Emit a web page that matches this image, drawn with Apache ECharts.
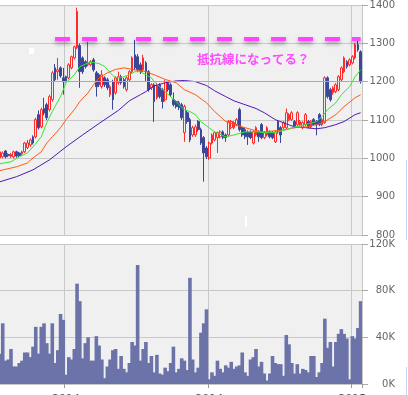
<!DOCTYPE html>
<html><head><meta charset="utf-8">
<script src="https://cdn.jsdelivr.net/npm/echarts@6.0.0/dist/echarts.min.js"></script>
<style>html,body{margin:0;padding:0;background:#fff;overflow:hidden}#c{width:408px;height:395px}</style>
</head><body><div id="c"></div>
<script>
// [open, close, low, high] per trading day
const ohlc = [
[1001,1017,996,1020],[1004,1014,1000,1018],[1019,1004,1000,1022],[1010,1007,1003,1013],[1005,1010,1001,1014],
[1004,1017,1000,1020],[1017,1006,1002,1020],[1014,1007,1003,1017],[1012,1017,1008,1020],[1017,1040,1014,1043],
[1028,1040,1024,1048],[1035,1048,1030,1052],[1056,1040,1036,1060],[1056,1101,1052,1106],[1114,1080,1075,1125],
[1082,1127,1078,1132],[1130,1118,1112,1158],[1140,1106,1100,1145],[1127,1161,1122,1166],[1153,1223,1148,1228],
[1236,1205,1200,1246],[1226,1231,1205,1262],[1236,1215,1210,1240],[1210,1200,1166,1236],[1213,1202,1198,1216],
[1210,1244,1206,1248],[1236,1265,1232,1268],[1262,1291,1258,1294],[1289,1383,1285,1393],[1294,1226,1184,1300],
[1262,1226,1220,1266],[1252,1239,1234,1256],[1244,1249,1240,1304],[1244,1252,1240,1256],[1257,1231,1226,1262],
[1223,1187,1161,1228],[1218,1192,1186,1222],[1187,1218,1182,1230],[1210,1192,1186,1214],[1205,1184,1178,1210],
[1166,1187,1160,1192],[1200,1153,1127,1205],[1171,1210,1166,1214],[1197,1213,1192,1226],[1213,1197,1192,1218],
[1205,1187,1182,1210],[1179,1210,1174,1214],[1205,1226,1200,1230],[1226,1262,1222,1266],[1270,1236,1230,1309],
[1265,1231,1226,1272],[1244,1226,1220,1250],[1231,1262,1226,1270],[1249,1226,1200,1254],[1226,1179,1174,1230],
[1184,1192,1178,1196],[1192,1148,1095,1196],[1158,1192,1153,1197],[1192,1161,1156,1196],[1179,1148,1130,1184],
[1153,1200,1148,1205],[1197,1179,1174,1202],[1192,1166,1160,1196],[1153,1140,1135,1172],[1148,1135,1130,1152],
[1145,1132,1126,1150],[1140,1106,1100,1145],[1067,1135,1043,1140],[1119,1096,1090,1124],[1101,1048,1042,1106],
[1061,1080,1056,1085],[1061,1082,1056,1088],[1096,1075,1070,1100],[1075,1040,1035,1080],[1054,1014,939,1058],
[1027,1004,998,1032],[1001,1040,996,1044],[1040,1061,1036,1065],[1048,1067,1044,1070],[1054,1067,1014,1070],
[1056,1069,1052,1073],[1069,1054,1050,1073],[1061,1054,1043,1065],[1061,1096,1057,1100],[1080,1096,1076,1100],
[1080,1093,1076,1097],[1088,1101,1084,1105],[1127,1075,1070,1132],[1080,1061,1056,1084],[1075,1056,1050,1079],
[1069,1056,1035,1073],[1069,1054,1050,1073],[1040,1069,1036,1073],[1061,1080,1057,1084],[1069,1056,1043,1073],
[1088,1054,1050,1092],[1054,1067,1050,1071],[1061,1080,1057,1084],[1069,1056,1052,1073],[1067,1054,1050,1071],
[1043,1069,1040,1073],[1096,1069,1064,1100],[1080,1061,1040,1084],[1080,1093,1076,1097],[1080,1119,1076,1130],
[1101,1114,1097,1118],[1101,1119,1097,1123],[1096,1082,1078,1100],[1088,1119,1084,1123],[1088,1096,1084,1100],
[1080,1093,1076,1097],[1088,1114,1084,1118],[1096,1082,1078,1100],[1082,1096,1078,1100],[1101,1088,1084,1105],
[1096,1088,1060,1100],[1114,1088,1084,1118],[1088,1101,1084,1105],[1093,1210,1090,1214],[1210,1161,1156,1214],
[1179,1153,1148,1184],[1171,1184,1166,1188],[1174,1192,1170,1196],[1179,1213,1175,1217],[1205,1236,1200,1240],
[1226,1262,1222,1266],[1252,1239,1234,1256],[1244,1257,1240,1261],[1249,1265,1245,1269],[1262,1296,1258,1300],
[1296,1283,1278,1307],[1278,1200,1195,1282]
];
// volume in thousands
const volume = [26,52,20,21,30,15,15,18,20,27,27,23,32,49,26,49,52,35,26,52,18,29,60,55,8,23,21,30,86,71,
22,35,40,20,20,41,33,21,5,15,21,29,30,13,24,13,10,18,36,33,102,20,30,36,18,24,10,25,9,8,14,11,18,32,10,13,22,
20,12,91,21,10,14,44,52,64,4,10,7,20,13,10,16,14,19,13,15,16,27,10,7,21,23,30,15,19,9,3,9,24,18,17,17,7,42,34,
18,9,17,9,13,12,10,24,24,6,10,18,56,31,36,15,36,43,47,43,39,4,41,39,48,71];
// moving averages: [dayIndex, value]
const maShort = [[0,986],[4,991],[7,1004],[10,1014],[12,1030],[15,1056],[17,1093],[19,1122],[22,1161],[24,1197],
[27,1218],[29,1239],[32,1249],[34,1250],[36,1247],[38,1240],[40,1223],[42,1210],[44,1210],[45,1213],[47,1218],
[49,1226],[51,1226],[53,1218],[55,1210],[56,1200],[58,1187],[60,1174],[62,1161],[64,1148],[65,1140],[67,1127],
[69,1122],[71,1114],[73,1096],[75,1085],[78,1069],[82,1056],[85,1061],[89,1069],[93,1069],[96,1067],[100,1067],
[104,1075],[107,1082],[111,1088],[115,1096],[117,1109],[119,1127],[122,1145],[124,1166],[127,1187],[129,1213],[131,1231]];
const maMid = [[0,968],[6,978],[10,988],[12,1001],[15,1017],[17,1040],[19,1056],[22,1080],[24,1101],[27,1127],
[29,1148],[32,1171],[34,1192],[36,1210],[39,1223],[42,1232],[45,1236],[49,1231],[53,1226],[56,1218],[60,1206],
[64,1197],[67,1179],[71,1166],[75,1145],[78,1122],[82,1096],[85,1088],[89,1080],[93,1072],[96,1069],[100,1072],
[104,1075],[107,1080],[111,1082],[115,1088],[118,1096],[122,1114],[125,1135],[129,1158],[131,1166]];
const maLong = [[0,939],[6,952],[12,970],[18,996],[24,1030],[30,1061],[36,1091],[43,1125],[47,1150],[51,1166],
[53,1174],[56,1189],[60,1197],[64,1202],[67,1203],[71,1200],[75,1190],[78,1176],[82,1161],[85,1150],[89,1140],
[93,1130],[96,1119],[100,1101],[104,1090],[107,1082],[111,1080],[115,1077],[118,1080],[122,1088],[125,1096],
[129,1114],[131,1119]];
const xTickIdx = [24, 76, 128];
const xTickText = ['2014', '2014', '2015'];
const resistanceLevel = 1313;
const resistanceStart = 20;
const noteText = '抵抗線になってる？';

const N = ohlc.length;
const cats = ohlc.map((_, i) => String(i));
const lastClose = ohlc[N - 1][1];
const showTick = (i) => xTickIdx.indexOf(i) >= 0;

const GL = -1.4, GR = 46;
const gridCol = '#c8c8c8';
const labelStyle = {color: '#666', fontSize: 10, fontFamily: 'DejaVu Sans', align: 'right', margin: 33,
  formatter: (v) => String(v)};

const chart = echarts.init(document.getElementById('c'), null, {renderer: 'canvas'});
chart.setOption({
  animation: false,
  backgroundColor: '#ffffff',
  grid: [
    {left: GL, right: GR, top: 5, height: 230, show: true, backgroundColor: '#f0f0f0', borderWidth: 0, outerBoundsMode: 'none', containLabel: false},
    {left: GL, right: GR, top: 244, height: 140, show: true, backgroundColor: '#f0f0f0', borderWidth: 0, outerBoundsMode: 'none', containLabel: false}
  ],
  xAxis: [
    {type: 'category', gridIndex: 0, data: cats, boundaryGap: true,
     axisLine: {show: true, lineStyle: {color: gridCol}}, axisTick: {show: false}, axisLabel: {show: false},
     splitLine: {show: true, interval: showTick, lineStyle: {color: gridCol, width: 1}}},
    {type: 'category', gridIndex: 1, data: cats, boundaryGap: true,
     axisLine: {show: true, lineStyle: {color: gridCol}},
     axisTick: {show: true, interval: showTick, length: 4, lineStyle: {color: '#999'}},
     axisLabel: {show: true, interval: showTick, margin: 10, color: '#555', fontSize: 11, fontFamily: 'DejaVu Sans',
       formatter: (v, i) => { const k = xTickIdx.indexOf(i); return k >= 0 ? xTickText[k] : ''; }},
     splitLine: {show: true, interval: showTick, lineStyle: {color: gridCol, width: 1}}}
  ],
  yAxis: [
    {type: 'value', gridIndex: 0, position: 'right', min: 800, max: 1400, interval: 100, scale: true,
     axisLine: {show: true, lineStyle: {color: gridCol}},
     axisTick: {show: true, length: 6, lineStyle: {color: '#aaa'}},
     axisLabel: labelStyle,
     splitLine: {show: true, lineStyle: {color: gridCol, width: 1}}},
    {type: 'value', gridIndex: 1, position: 'right', min: 0, max: 120, interval: 40,
     axisLine: {show: true, lineStyle: {color: gridCol}},
     axisTick: {show: true, length: 6, lineStyle: {color: '#aaa'}},
     axisLabel: Object.assign({}, labelStyle, {formatter: (v) => v + 'K'}),
     splitLine: {show: true, lineStyle: {color: gridCol, width: 1}}}
  ],
  series: [
    {type: 'candlestick', xAxisIndex: 0, yAxisIndex: 0, data: ohlc, barWidth: 2.2,
     itemStyle: {color: 'rgba(0,0,0,0)', color0: '#3c4799', borderColor: '#ff2a2a', borderColor0: '#3c4799', borderWidth: 1},
     markLine: {silent: true, symbol: ['none', 'none'], label: {show: false}, animation: false,
       data: [
         {yAxis: lastClose, lineStyle: {color: '#f28b8b', width: 1, type: 'solid'}},
         [{coord: [resistanceStart, resistanceLevel],
           lineStyle: {color: '#ff45ff', width: 4, type: [15, 12], shadowColor: 'rgba(0,0,0,0.35)', shadowBlur: 4, shadowOffsetY: 3}},
          {coord: [N - 1, resistanceLevel]}]
       ]}},
    {type: 'line', xAxisIndex: 0, yAxisIndex: 0, data: maLong, symbol: 'none', lineStyle: {color: '#5018b4', width: 1}},
    {type: 'line', xAxisIndex: 0, yAxisIndex: 0, data: maMid, symbol: 'none', lineStyle: {color: '#ff5a14', width: 1}},
    {type: 'line', xAxisIndex: 0, yAxisIndex: 0, data: maShort, symbol: 'none', lineStyle: {color: '#33e633', width: 1}},
    {type: 'bar', xAxisIndex: 1, yAxisIndex: 1, data: volume, barWidth: 3.6,
     itemStyle: {color: '#6b73a9'}}
  ],
  graphic: [
    {type: 'text', left: 197, top: 53, z: 100,
     style: {text: noteText, fill: '#ff4cff', font: 'bold 12.5px "Noto Sans CJK JP"',
       shadowColor: 'rgba(0,0,0,0.15)', shadowBlur: 2, shadowOffsetY: 1}},
    {type: 'rect', z: 100, shape: {x: 29, y: 48, width: 5, height: 6}, style: {fill: '#ffffff'}},
    {type: 'rect', z: 100, shape: {x: 245, y: 216, width: 2, height: 11}, style: {fill: '#ffffff'}},
    {type: 'line', z: 100, shape: {x1: 406.5, y1: 160, x2: 406.5, y2: 240}, style: {stroke: '#c4d4f0', lineWidth: 1}},
    {type: 'line', z: 100, shape: {x1: 406.5, y1: 367, x2: 406.5, y2: 395}, style: {stroke: '#c4d4f0', lineWidth: 1}}
  ]
});
</script>
</body></html>
